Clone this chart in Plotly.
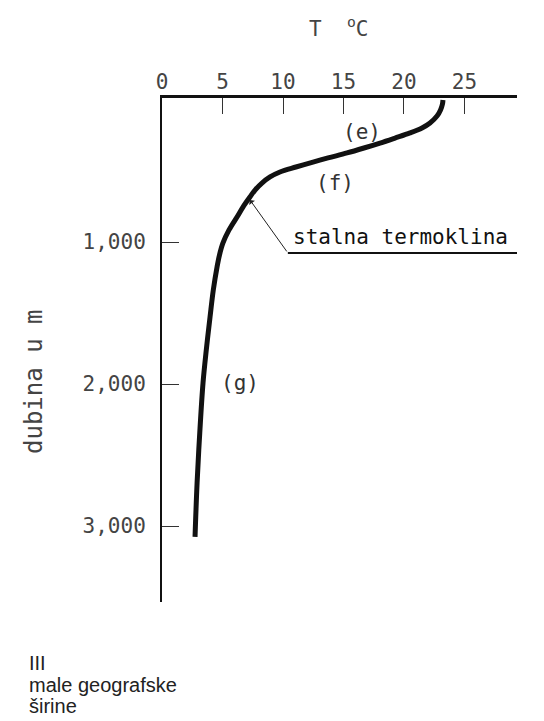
import plotly.graph_objects as go

# Temperature profile of the ocean at low latitudes
depth_m = [0, 28, 70, 113, 162, 197, 232, 268, 303, 338, 373, 408, 437, 472, 507, 542,
           585, 634, 683, 754, 824, 915, 1007, 1092, 1176, 1338, 1528, 1761, 1993, 2345,
           2697, 3077]
temp_c = [23.22, 23.18, 23.02, 22.73, 22.15, 21.49, 20.5, 19.26, 18.02, 16.69, 15.29,
          13.72, 12.48, 11.07, 9.75, 8.93, 8.26, 7.69, 7.27, 6.69, 6.2, 5.54, 5.04, 4.75,
          4.55, 4.24, 3.97, 3.66, 3.39, 3.12, 2.9, 2.73]

x_ticks = [0, 5, 10, 15, 20, 25]
y_ticks = [1000, 2000, 3000]
y_tick_labels = ["1,000", "2,000", "3,000"]

zone_labels = ["(e)", "(f)", "(g)"]
zone_temp = [16.5, 14.3, 6.45]
zone_depth = [225, 585, 1993]

thermocline_text = "stalna termoklina"

MONO = "DejaVu Sans Mono"
GREY = "#444444"

fig = go.Figure()

fig.add_trace(go.Scatter(
    x=temp_c, y=depth_m, mode="lines",
    line=dict(color="#111111", width=5, shape="spline", smoothing=1.0),
    hoverinfo="skip", showlegend=False,
))

x_max = 29.34
fig.update_layout(
    width=544, height=721,
    margin=dict(l=162, r=27, t=98, b=119),
    paper_bgcolor="white", plot_bgcolor="white",
    showlegend=False,
    xaxis=dict(
        side="top", range=[0, x_max], tickvals=x_ticks,
        ticks="inside", ticklen=16, tickwidth=1, tickcolor="#333",
        showline=True, linecolor="#111", linewidth=3,
        showgrid=False, zeroline=False,
        tickfont=dict(family=MONO, size=21, color=GREY),
        ticklabelstandoff=-2,
    ),
    yaxis=dict(
        range=[3535, -14], tickvals=y_ticks, ticktext=y_tick_labels,
        ticks="inside", ticklen=17, tickwidth=1, tickcolor="#333",
        showline=True, linecolor="#111", linewidth=2,
        showgrid=False, zeroline=False,
        tickfont=dict(family=MONO, size=21, color=GREY),
        ticklabelstandoff=10,
    ),
)

# zone letters along the curve
for txt, tx, dy in zip(zone_labels, zone_temp, zone_depth):
    fig.add_annotation(x=tx, y=dy, xref="x", yref="y", text=txt, showarrow=False,
                       font=dict(family=MONO, size=21, color="#333"))

# permanent thermocline label with underline and pointer
fig.add_annotation(x=19.75, y=965, xref="x", yref="y", text=thermocline_text,
                   showarrow=False, font=dict(family=MONO, size=21, color="#111"))
fig.add_shape(type="line", x0=10.4, y0=1077, x1=x_max, y1=1077,
              xref="x", yref="y", line=dict(color="#111", width=2))
fig.add_annotation(x=7.27, y=704, ax=10.4, ay=1077, xref="x", yref="y",
                   axref="x", ayref="y", text="", showarrow=True,
                   arrowhead=1, arrowsize=1.2, arrowwidth=1, arrowcolor="#222")

# axis titles (positions in page pixels, converted below)
fig.add_annotation(x=338, y=27, xref="paper", yref="paper", text="T  <sup>o</sup>C",
                   xanchor="center", yanchor="middle", showarrow=False,
                   font=dict(family=MONO, size=21, color=GREY))
fig.add_annotation(x=34, y=382, xref="paper", yref="paper", text="dubina u m",
                   textangle=-90, xanchor="center", yanchor="middle", showarrow=False,
                   font=dict(family=MONO, size=24, color=GREY))

# caption lines
caption = ["III", "male geografske", "širine"]
caption_y = [663, 685, 706]
for line, cy in zip(caption, caption_y):
    fig.add_annotation(x=27, y=cy, xref="paper", yref="paper", text=line,
                       xanchor="left", yanchor="middle", showarrow=False,
                       font=dict(family="Liberation Sans", size=20, color="#222"))


def px_to_paper(fig):
    # title/caption positions above are given in page pixels; convert to paper units
    W, H = 544, 721
    m = fig.layout.margin
    pw, ph = W - m.l - m.r, H - m.t - m.b
    for a in fig.layout.annotations:
        if a.xref == "paper":
            a.x = (a.x - m.l) / pw
            a.y = 1 - (a.y - m.t) / ph


px_to_paper(fig)
fig.write_html("out.html")
